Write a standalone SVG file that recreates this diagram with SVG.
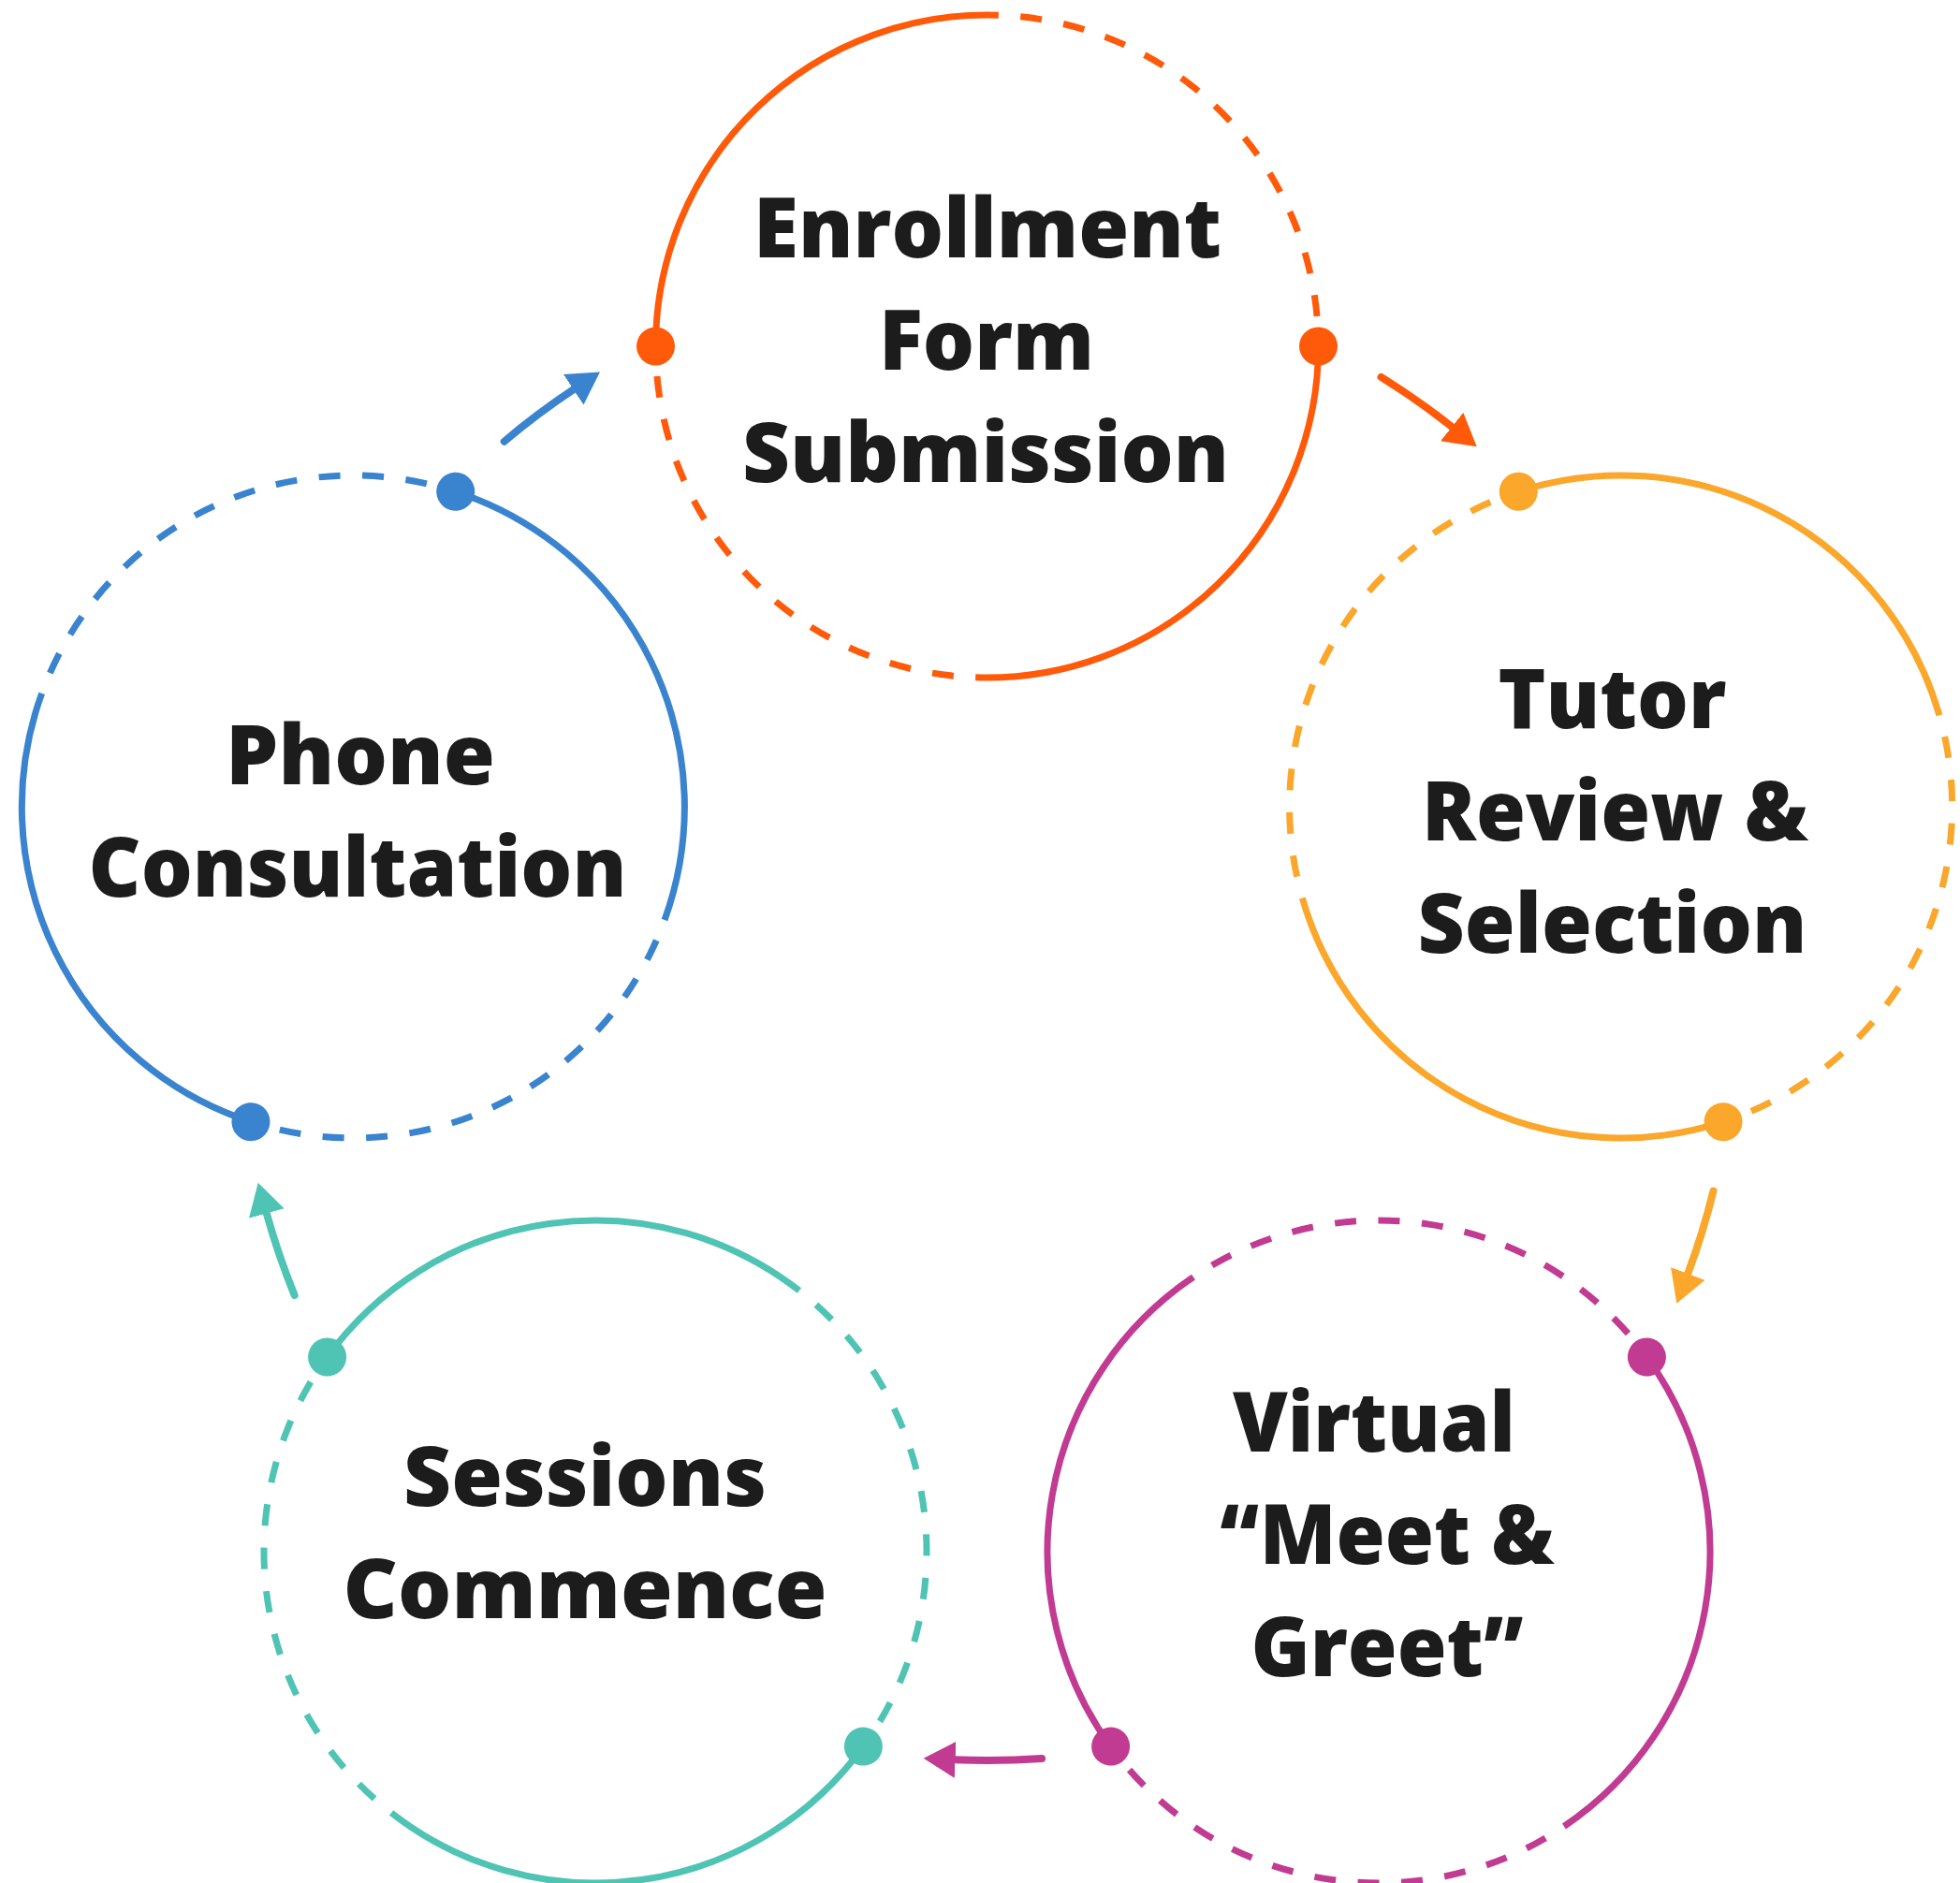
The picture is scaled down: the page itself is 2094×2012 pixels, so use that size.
<svg xmlns="http://www.w3.org/2000/svg" width="2094" height="2012" viewBox="0 0 2094 2012">
<style>
.ring path{fill:none;stroke-width:7}
.ring .d{stroke-dasharray:23 23.5;stroke-dashoffset:23}
.arrow{fill:none;stroke-width:8;stroke-linecap:round}
.label{font-family:"Open Sans","Liberation Sans",sans-serif;font-weight:800;font-size:88px;fill:#1c1c1c;text-anchor:middle}
.or path{stroke:#FF5A0A}.or circle{fill:#FF5A0A}
.ye path{stroke:#FAA72B}.ye circle{fill:#FAA72B}
.ma path{stroke:#C23B92}.ma circle{fill:#C23B92}
.te path{stroke:#4FC4B5}.te circle{fill:#4FC4B5}
.bl path{stroke:#3A84CF}.bl circle{fill:#3A84CF}
</style>
<defs>
<marker id="ah-bl" markerUnits="userSpaceOnUse" markerWidth="40" markerHeight="44" viewBox="0 -22 40 44" refX="1" refY="0" orient="auto"><path d="M0 -19.5L34 0L0 19.5Z" fill="#3A84CF"/></marker>
<marker id="ah-or" markerUnits="userSpaceOnUse" markerWidth="40" markerHeight="44" viewBox="0 -22 40 44" refX="1" refY="0" orient="auto"><path d="M0 -19.5L34 0L0 19.5Z" fill="#FF5A0A"/></marker>
<marker id="ah-ye" markerUnits="userSpaceOnUse" markerWidth="40" markerHeight="44" viewBox="0 -22 40 44" refX="1" refY="0" orient="auto"><path d="M0 -19.5L34 0L0 19.5Z" fill="#FAA72B"/></marker>
<marker id="ah-ma" markerUnits="userSpaceOnUse" markerWidth="40" markerHeight="44" viewBox="0 -22 40 44" refX="1" refY="0" orient="auto"><path d="M0 -19.5L34 0L0 19.5Z" fill="#C23B92"/></marker>
<marker id="ah-te" markerUnits="userSpaceOnUse" markerWidth="40" markerHeight="44" viewBox="0 -22 40 44" refX="1" refY="0" orient="auto"><path d="M0 -19.5L34 0L0 19.5Z" fill="#4FC4B5"/></marker>
</defs>
<rect width="2094" height="2012" fill="#ffffff"/>

<g id="node-enrollment">
<g class="ring or">
<path class="s" d="M700.5 370A354 354 0 0 1 1066.85 16.2"/>
<path class="d" d="M1066.85 16.2A354 354 0 0 1 1408.5 370"/>
<path class="s" d="M1408.5 370A354 354 0 0 1 1042.15 723.8"/>
<path class="d" d="M1042.15 723.8A354 354 0 0 1 700.5 370"/>
<circle cx="700.5" cy="370" r="20.5"/>
<circle cx="1408.5" cy="370" r="20.5"/>
</g>
<text class="label" x="1055" y="275" textLength="500" lengthAdjust="spacingAndGlyphs">Enrollment</text>
<text class="label" x="1054" y="395" textLength="230" lengthAdjust="spacingAndGlyphs">Form</text>
<text class="label" x="1053" y="515" textLength="520" lengthAdjust="spacingAndGlyphs">Submission</text>
</g>

<g id="node-tutor">
<g class="ring ye" transform="rotate(72 1054.5 1082)">
<path class="s" d="M700.5 370A354 354 0 0 1 1066.85 16.2"/>
<path class="d" d="M1066.85 16.2A354 354 0 0 1 1408.5 370"/>
<path class="s" d="M1408.5 370A354 354 0 0 1 1042.15 723.8"/>
<path class="d" d="M1042.15 723.8A354 354 0 0 1 700.5 370"/>
<circle cx="700.5" cy="370" r="20.5"/>
<circle cx="1408.5" cy="370" r="20.5"/>
</g>
<text class="label" x="1722.5" y="778" textLength="244" lengthAdjust="spacingAndGlyphs">Tutor</text>
<text class="label" x="1725.5" y="898" textLength="413" lengthAdjust="spacingAndGlyphs">Review &amp;</text>
<text class="label" x="1722.5" y="1018" textLength="416" lengthAdjust="spacingAndGlyphs">Selection</text>
</g>

<g id="node-virtual">
<g class="ring ma" transform="rotate(144 1054.5 1082)">
<path class="s" d="M700.5 370A354 354 0 0 1 1066.85 16.2"/>
<path class="d" d="M1066.85 16.2A354 354 0 0 1 1408.5 370"/>
<path class="s" d="M1408.5 370A354 354 0 0 1 1042.15 723.8"/>
<path class="d" d="M1042.15 723.8A354 354 0 0 1 700.5 370"/>
<circle cx="700.5" cy="370" r="20.5"/>
<circle cx="1408.5" cy="370" r="20.5"/>
</g>
<text class="label" x="1468" y="1551" textLength="302" lengthAdjust="spacingAndGlyphs">Virtual</text>
<text class="label" x="1482" y="1671" textLength="357" lengthAdjust="spacingAndGlyphs">“Meet &amp;</text>
<text class="label" x="1482" y="1790.5" textLength="291" lengthAdjust="spacingAndGlyphs">Greet”</text>
</g>

<g id="node-sessions">
<g class="ring te" transform="rotate(216 1054.5 1082)">
<path class="s" d="M700.5 370A354 354 0 0 1 1066.85 16.2"/>
<path class="d" d="M1066.85 16.2A354 354 0 0 1 1408.5 370"/>
<path class="s" d="M1408.5 370A354 354 0 0 1 1042.15 723.8"/>
<path class="d" d="M1042.15 723.8A354 354 0 0 1 700.5 370"/>
<circle cx="700.5" cy="370" r="20.5"/>
<circle cx="1408.5" cy="370" r="20.5"/>
</g>
<text class="label" x="625" y="1609" textLength="388" lengthAdjust="spacingAndGlyphs">Sessions</text>
<text class="label" x="625" y="1729" textLength="517" lengthAdjust="spacingAndGlyphs">Commence</text>
</g>

<g id="node-phone">
<g class="ring bl" transform="rotate(288 1054.5 1082)">
<path class="s" d="M700.5 370A354 354 0 0 1 1066.85 16.2"/>
<path class="d" d="M1066.85 16.2A354 354 0 0 1 1408.5 370"/>
<path class="s" d="M1408.5 370A354 354 0 0 1 1042.15 723.8"/>
<path class="d" d="M1042.15 723.8A354 354 0 0 1 700.5 370"/>
<circle cx="700.5" cy="370" r="20.5"/>
<circle cx="1408.5" cy="370" r="20.5"/>
</g>
<text class="label" x="385" y="838" textLength="288" lengthAdjust="spacingAndGlyphs">Phone</text>
<text class="label" x="382" y="957.5" textLength="575" lengthAdjust="spacingAndGlyphs">Consultation</text>
</g>

<g id="connectors">
<path class="arrow" stroke="#3A84CF" marker-end="url(#ah-bl)" d="M538.7 471.7A799 799 0 0 1 613.5 415.7"/>
<path class="arrow" stroke="#FF5A0A" marker-end="url(#ah-or)" transform="rotate(72 1054.5 1082)" d="M538.7 471.7A799 799 0 0 1 613.5 415.7"/>
<path class="arrow" stroke="#FAA72B" marker-end="url(#ah-ye)" transform="rotate(144 1054.5 1082)" d="M538.7 471.7A799 799 0 0 1 613.5 415.7"/>
<path class="arrow" stroke="#C23B92" marker-end="url(#ah-ma)" transform="rotate(216 1054.5 1082)" d="M538.7 471.7A799 799 0 0 1 613.5 415.7"/>
<path class="arrow" stroke="#4FC4B5" marker-end="url(#ah-te)" transform="rotate(288 1054.5 1082)" d="M538.7 471.7A799 799 0 0 1 613.5 415.7"/>
</g>
</svg>
